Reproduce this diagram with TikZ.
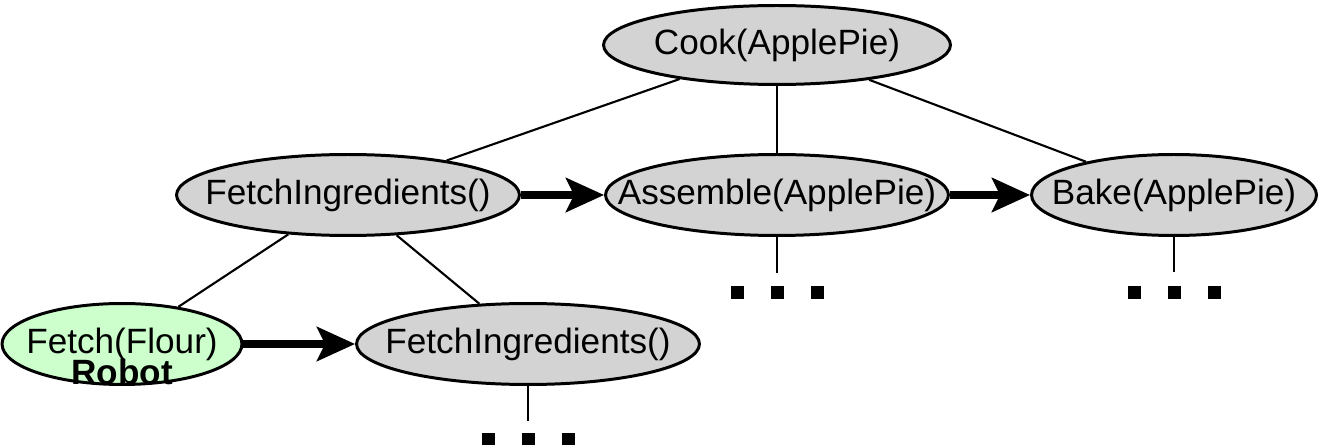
\documentclass[tikz,border=0pt]{standalone}
\usepackage{fontspec}
\setmainfont{Liberation Sans}
\usetikzlibrary{shapes.geometric,arrows.meta,calc}
\definecolor{taskgray}{RGB}{211,211,211}
\definecolor{robotgreen}{RGB}{204,255,204}
\newcommand{\tasklabel}[1]{\makebox[0pt]{#1}}

\begin{document}
\begin{tikzpicture}[x=0.02cm,y=0.02cm]
\tikzset{task/.style={draw,ellipse,line width=1.7pt,fill=taskgray,inner sep=0pt,
    minimum width=6.86cm,minimum height=1.62cm,font=\fontsize{20}{24}\selectfont},
  robot/.style={task,fill=robotgreen},
  tree/.style={line width=1.2pt},
  seq/.style={line width=4pt,-{Stealth[length=0.76cm,width=0.68cm,inset=0.16cm]}},
  more/.style={fill=black,minimum size=0.26cm,inner sep=0pt}};
   \useasboundingbox (0,0) rectangle (1321,446);

   \node[task,minimum width=6.94cm,minimum height=1.58cm] at (777,401) (Cook) {\tasklabel{Cook(ApplePie)}};
   \node[task] at (348,251) (FetchI) {\tasklabel{FetchIngredients()}};
   \node[task] at (777,251) (Asm) {\tasklabel{Assemble(ApplePie)}};
   \node[task,minimum width=5.7cm] at (1174,251) (Bake) {\tasklabel{Bake(ApplePie)}};
   \node[robot,minimum width=4.8cm] at (122,102) (Flour) {\tasklabel{Fetch(Flour)}};
   \node[anchor=base,font=\fontsize{20}{24}\selectfont\bfseries] at ($(Flour.center)+(0,-41)$) (Rob) {Robot};
   \node[task] at (528,102) (FetchII) {\tasklabel{FetchIngredients()}};

   \draw[tree] (Cook) -- (FetchI);
   \draw[tree] (Cook) -- (Asm);
   \draw[tree] (Cook) -- (Bake);
   \draw[tree] (FetchI) -- (Flour);
   \draw[tree] (FetchI) -- (FetchII);

   \draw[seq] (FetchI) -- (Asm);
   \draw[seq] (Asm) -- (Bake);
   \draw[seq] (Flour) -- (FetchII);

   % elided subtrees
   \coordinate (AsmEnd) at ($(Asm.center)+(0,-78)$);
   \coordinate (BakeEnd) at ($(Bake.center)+(0,-77)$);
   \coordinate (FetchIIEnd) at ($(FetchII.center)+(0,-77)$);
   \draw[tree] (Asm) -- (AsmEnd);
   \draw[tree] (Bake) -- (BakeEnd);
   \draw[tree] (FetchII) -- (FetchIIEnd);
   \foreach \dx in {-40,0,40} {
     \node[more] at ($(Asm.center)+(\dx,-98)$) {};
     \node[more] at ($(Bake.center)+(\dx,-98)$) {};
     \node[more] at ($(FetchII.center)+(\dx,-95)$) {};
   }
 \end{tikzpicture}
\end{document}
